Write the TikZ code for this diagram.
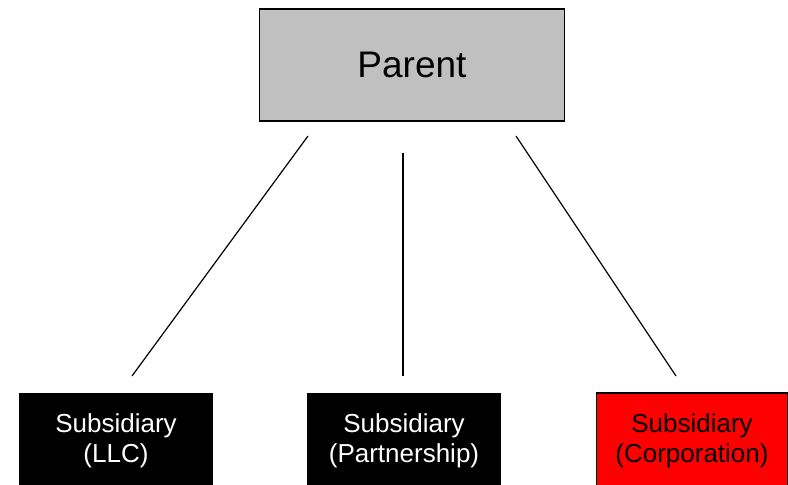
\documentclass[tikz,border=0pt]{standalone}
\usepackage{fontspec}
\setmainfont{Liberation Sans}

\begin{document}
\begin{tikzpicture}[x=1pt,y=-1pt]
\tikzstyle{every node}=[font=\fontsize{26}{30}\selectfont, align=center, inner sep=0pt]
\tikzstyle{parentbox}=[draw=black, line width=1.5pt, fill={rgb,255:red,192;green,192;blue,192}, minimum width=305pt, minimum height=112pt, font=\fontsize{37}{42}\selectfont]
\tikzstyle{subbox}=[fill=black, text=white, minimum width=194pt, minimum height=96pt]
\tikzstyle{corpbox}=[draw=black, line width=1.5pt, fill=red, text=black, minimum width=191pt, minimum height=96pt]
\tikzstyle{link}=[line width=1.2pt]

\useasboundingbox (0,0) rectangle (788,485);

\node[parentbox] (parent) at (412,65) {Parent};

\node[subbox] (llc) at (116,441) {Subsidiary\\(LLC)};
\node[subbox] (partner) at (404,441) {Subsidiary\\(Partnership)};
\node[corpbox] (corp) at (692,441) {Subsidiary\\(Corporation)};

\coordinate (topleft) at (308,136);
\coordinate (topmid) at (403,153);
\coordinate (topright) at (516,136);
\coordinate (botleft) at (132,376);
\coordinate (botmid) at (403,376);
\coordinate (botright) at (676,376);

\draw[link] (topleft) -- (botleft);
\draw[link] (topmid) -- (botmid);
\draw[link] (topright) -- (botright);

\end{tikzpicture}
\end{document}
